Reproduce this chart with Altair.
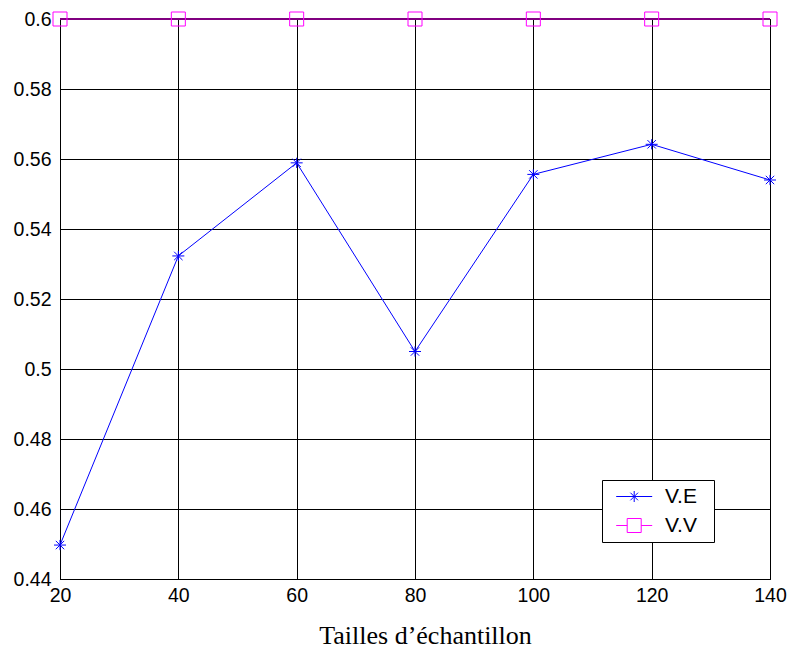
import altair as alt
import pandas as pd

# Sample sizes and the two series
tailles = [20, 40, 60, 80, 100, 120, 140]
v_e = [0.4497, 0.5323, 0.5589, 0.5050, 0.5556, 0.5642, 0.5540]
v_v = [0.6, 0.6, 0.6, 0.6, 0.6, 0.6, 0.6]
series = ["V.E", "V.V"]
x_ticks = [20, 40, 60, 80, 100, 120, 140]
y_ticks = [0.44, 0.46, 0.48, 0.50, 0.52, 0.54, 0.56, 0.58, 0.60]

df_e = pd.DataFrame({"taille": tailles, "valeur": v_e, "serie": series[0]})
df_v = pd.DataFrame({"taille": tailles, "valeur": v_v, "serie": series[1]})
df = pd.concat([df_e, df_v], ignore_index=True)

# Marker glyphs (unit box -1..1)
STAR = "M-1,0L1,0M0,-0.85L0,0.85M-0.7,-0.7L0.7,0.7M-0.7,0.7L0.7,-0.7"
# Legend glyphs: a short line segment with the marker in its middle
LEG_E = ("M-0.23,0L3.37,0M1.57,-0.55L1.57,0.55M1.19,-0.38L1.95,0.38"
         "M1.19,0.38L1.95,-0.38")
LEG_V = "M-0.23,0L0.87,0M2.27,0L3.37,0M0.87,-0.7L2.27,-0.7L2.27,0.7L0.87,0.7Z"

x = alt.X(
    "taille:Q",
    title="Tailles d\u2019échantillon",
    scale=alt.Scale(domain=[20, 140], nice=False, zero=False),
    axis=alt.Axis(
        values=x_ticks,
        format="d",
        grid=True,
        gridColor="black",
        gridOpacity=1,
        gridWidth=1,
        domainColor="black",
        ticks=False,
        labelFont="Liberation Sans",
        labelFontSize=19.5,
        labelColor="black",
        labelPadding=7,
        labelFlush=False,
        titleFont="Liberation Serif",
        titleFontSize=26,
        titleFontWeight="normal",
        titleColor="black",
        titleX=365,
        titleY=64,
        titleAlign="center",
        titleBaseline="alphabetic",
    ),
)
y = alt.Y(
    "valeur:Q",
    title=None,
    scale=alt.Scale(domain=[0.44, 0.6], nice=False, zero=False),
    axis=alt.Axis(
        values=y_ticks,
        labelExpr="replace(format(datum.value, '.2f'), /0$/, '')",
        grid=True,
        gridColor="black",
        gridOpacity=1,
        gridWidth=1,
        domainColor="black",
        ticks=False,
        labelFont="Liberation Sans",
        labelFontSize=19.5,
        labelColor="black",
        labelPadding=9,
        labelFlush=False,
    ),
)

line_e = alt.Chart(df_e).mark_line(color="#0000ff", strokeWidth=1).encode(x=x, y=y)
line_v = alt.Chart(df_v).mark_line(color="#800080", strokeWidth=2.2).encode(x=x, y=y)

pts_e = alt.Chart(df_e).mark_point(
    shape=STAR, size=144, filled=False, color="#0000ff", strokeWidth=1, opacity=1
).encode(x=x, y=y)
pts_v = alt.Chart(df_v).mark_point(
    shape="square", size=196, filled=False, color="#ff00ff", strokeWidth=1, opacity=1
).encode(x=x, y=y)

# Empty layer that only carries the legend
legend_layer = (
    alt.Chart(df)
    .transform_filter("false")
    .mark_point(filled=False, strokeWidth=1, opacity=1)
    .encode(
        x=x,
        y=y,
        color=alt.Color(
            "serie:N",
            scale=alt.Scale(domain=series, range=["#0000ff", "#ff00ff"]),
            legend=alt.Legend(
                title="|",
                titleOrient="right",
                titleOpacity=0,
                titleFontSize=2,
                titlePadding=10,
                orient="none",
                legendX=542,
                legendY=461,
                padding=6,
                symbolSize=400,
                symbolStrokeWidth=1,
                rowPadding=7,
                labelOffset=36,
                labelFont="Liberation Sans",
                labelFontSize=21,
                labelColor="black",
                strokeColor="black",
                fillColor="white",
                cornerRadius=0,
            ),
        ),
        shape=alt.Shape(
            "serie:N",
            scale=alt.Scale(domain=series, range=[LEG_E, LEG_V]),
            legend=alt.Legend(title="|"),
        ),
    )
)

chart = (
    alt.layer(line_e, line_v, pts_e, pts_v, legend_layer)
    .properties(
        width=710,
        height=560,
        padding={"left": 60, "top": 19, "right": 22, "bottom": 72},
        autosize=alt.AutoSizeParams(type="none"),
        background="white",
    )
    .configure_view(stroke="black", strokeWidth=1)
)

chart.save("out.html", embed_options={"renderer": "svg", "actions": False})
